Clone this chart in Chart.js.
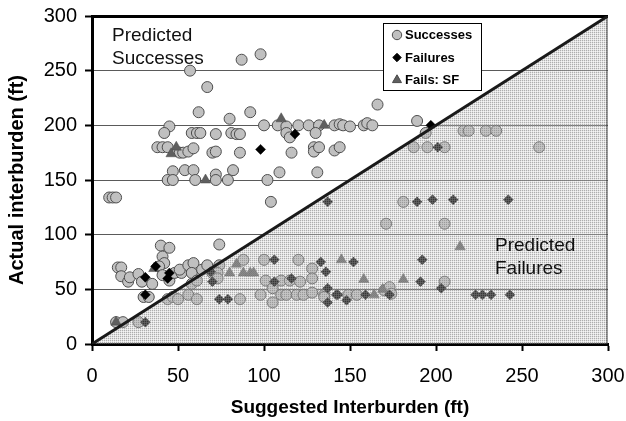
<!DOCTYPE html>
<html>
<head>
<meta charset="utf-8">
<script src="https://cdn.jsdelivr.net/npm/chart.js@4.4.1/dist/chart.umd.min.js"></script>
<style>
  html, body { margin: 0; padding: 0; background: #fff; }
  #wrap { width: 626px; height: 421px; position: relative; }
</style>
</head>
<body>
<div id="wrap"><canvas id="chart"></canvas></div>
<script>
// [suggested, actual] interburden in ft
const successes = [
  [87,260],[98,265],[57,250],[67,235],[62,212],[92,212],[80,206],[166,219],[189,204],
  [45,199],[100,200],[108,200],[113,199],[120,200],[126,200],[132,200],[141,200],[144,201],
  [146,200],[150,199],[158,200],[160,202],[163,200],
  [42,193],[58,193],[61,193],[63,193],[72,192],[81,193],[84,192],[86,192],[113,193],[115,189],
  [130,193],[194,193],[216,195],[219,195],[229,195],[235,195],
  [38,180],[41,180],[44,180],[51,175],[53,175],[56,176],[59,179],[70,175],[72,176],[86,175],
  [116,175],[129,180],[129,176],[132,180],[141,177],[144,180],
  [187,180],[195,180],[205,180],[260,180],
  [47,158],[54,159],[59,159],[72,155],[82,159],[109,157],[131,157],
  [44,150],[47,150],[60,150],[72,150],[79,150],[102,150],
  [10,134],[12,134],[14,134],[104,130],[181,130],[171,110],[205,110],
  [15,70],[17,70],[17,62],[21,57],[22,61],[27,64],[29,57],[35,55],[30,43],[33,43],
  [40,90],[45,88],[41,80],[42,74],[39,71],[41,63],[45,58],[48,65],[52,65],[51,68],
  [56,72],[59,74],[58,65],[64,68],[67,72],[74,91],[74,72],[70,65],[73,65],[73,60],
  [14,20],[18,20],[27,20],
  [44,41],[47,43],[50,41],[56,45],[61,41],[58,55],[61,58],
  [86,41],[88,77],[100,77],[120,77],[128,69],[128,60],[101,58],[110,58],[115,58],[121,57],
  [105,51],[98,45],[105,38],[110,45],[113,45],[119,45],[123,45],[128,47],[135,45],[135,43],
  [149,45],[154,45],[170,49],[173,52],[174,46],[205,57]
];
const failures = [
  [98,178],[118,192],[197,200],[201,180],
  [31,61],[31,45],[37,71],[45,65],[44,60],[31,20],
  [69,66],[70,57],[74,41],[79,41],[106,77],[106,57],[116,60],[133,75],[136,66],[137,51],
  [137,38],[142,45],[143,45],[148,40],[152,75],[159,45],[173,45],[192,77],[191,57],[203,51],
  [223,45],[227,45],[232,45],[243,45],
  [137,130],[189,130],[198,132],[210,132],[242,132]
];
const failsSF = [
  [49,180],[46,174],[66,150],[110,206],[135,200],
  [14,20],[36,69],[84,73],[80,65],[88,65],[92,65],[94,65],
  [145,77],[158,59],[164,45],[169,50],[181,59],[214,89]
];
// 1:1 line between predicted success and failure
const diagonal = [[0,0],[300,300]];
const axisTicks = [0, 50, 100, 150, 200, 250, 300];

const FONT = "'Liberation Sans', Arial, sans-serif";
const toXY = arr => arr.map(p => ({ x: p[0], y: p[1] }));

// light dotted screen used for the "predicted failures" half
function makeScreen() {
  const c = document.createElement('canvas');
  c.width = 2; c.height = 2;
  const g = c.getContext('2d');
  g.fillStyle = 'rgba(140,140,140,0.7)'; g.fillRect(0, 0, 1, 1);
  g.fillStyle = 'rgba(190,190,190,0.45)'; g.fillRect(1, 0, 1, 1); g.fillRect(0, 1, 1, 1);
  g.fillStyle = 'rgba(215,215,215,0.25)'; g.fillRect(1, 1, 1, 1);
  return c;
}

const screenPlugin = {
  id: 'screen',
  beforeDatasetDraw(chart, args) {
    if (args.index !== 0) return;
    const xs = chart.scales.x, ys = chart.scales.y, area = chart.chartArea;
    const ctx = chart.ctx;
    const x0 = xs.getPixelForValue(diagonal[0][0]), y0 = ys.getPixelForValue(diagonal[0][1]);
    const x1 = xs.getPixelForValue(diagonal[1][0]), y1 = ys.getPixelForValue(diagonal[1][1]);
    ctx.save();
    ctx.beginPath();
    ctx.moveTo(x0, y0);
    ctx.lineTo(x1, y1);
    ctx.lineTo(x1, y0);
    ctx.closePath();
    ctx.fillStyle = ctx.createPattern(makeScreen(), 'repeat');
    ctx.fill();
    ctx.strokeStyle = 'rgba(0,0,0,0.35)';
    ctx.lineWidth = 2;
    ctx.beginPath();
    ctx.moveTo(area.right - 1, y1);
    ctx.lineTo(area.right - 1, y0);
    ctx.stroke();
    ctx.restore();
  }
};

const notesPlugin = {
  id: 'notes',
  afterDraw(chart) {
    const ctx = chart.ctx;
    ctx.save();
    ctx.fillStyle = '#111';
    ctx.font = '19px ' + FONT;
    ctx.textBaseline = 'middle';
    ctx.textAlign = 'left';
    ctx.fillText('Predicted', 112, 36);
    ctx.fillText('Successes', 112, 59);
    ctx.fillText('Predicted', 495, 246);
    ctx.fillText('Failures', 495, 269);

    // legend box
    ctx.fillStyle = '#fff';
    ctx.fillRect(383.5, 23.5, 98, 67);
    ctx.strokeStyle = '#000';
    ctx.lineWidth = 1;
    ctx.strokeRect(383.5, 23.5, 98, 67);
    const items = [
      { ds: chart.data.datasets[3], y: 35 },
      { ds: chart.data.datasets[1], y: 57.5 },
      { ds: chart.data.datasets[2], y: 80 }
    ];
    items.forEach(it => {
      ctx.fillStyle = it.ds.backgroundColor;
      ctx.strokeStyle = it.ds.borderColor;
      ctx.lineWidth = 1;
      Chart.helpers.drawPoint(ctx, {
        pointStyle: it.ds.pointStyle,
        radius: it.ds.pointRadius - 0.8,
        rotation: 0,
        borderWidth: 1
      }, 397, it.y);
      ctx.fillStyle = '#000';
      ctx.font = 'bold 13px ' + FONT;
      ctx.fillText(it.ds.label, 405, it.y + 0.5);
    });
    ctx.restore();
  }
};

new Chart(document.getElementById('chart'), {
  type: 'scatter',
  data: {
    datasets: [
      {
        type: 'line',
        label: '1:1',
        data: toXY(diagonal),
        borderColor: '#1a1a1a',
        borderWidth: 3,
        pointRadius: 0,
        order: 0
      },
      {
        label: 'Failures',
        data: toXY(failures),
        pointStyle: 'rectRot',
        pointRadius: 5,
        backgroundColor: '#000',
        borderColor: '#000',
        borderWidth: 0.5,
        order: 1
      },
      {
        label: 'Fails: SF',
        data: toXY(failsSF),
        pointStyle: 'triangle',
        pointRadius: 6,
        backgroundColor: '#5f5f5f',
        borderColor: '#4a4a4a',
        borderWidth: 0.5,
        order: 2
      },
      {
        label: 'Successes',
        data: toXY(successes),
        pointStyle: 'circle',
        pointRadius: 5.5,
        backgroundColor: '#c0c0c0',
        borderColor: '#4d4d4d',
        borderWidth: 1,
        order: 3
      }
    ]
  },
  plugins: [screenPlugin, notesPlugin],
  options: {
    responsive: true,
    maintainAspectRatio: false,
    animation: false,
    layout: { padding: { top: 16, right: 18, bottom: 0, left: 0 } },
    plugins: { legend: { display: false }, tooltip: { enabled: false } },
    scales: {
      x: {
        type: 'linear',
        min: axisTicks[0],
        max: axisTicks[axisTicks.length - 1],
        afterBuildTicks: s => { s.ticks = axisTicks.map(v => ({ value: v })); },
        // fixed axis box so the plot area lands where the original has it
        afterFit: s => { s.height = 77; s.paddingRight = 0; s.paddingLeft = 0; },
        ticks: { color: '#000', font: { family: FONT, size: 20 }, padding: 13, maxRotation: 0 },
        grid: { drawOnChartArea: false, drawTicks: true, tickLength: 7, tickColor: '#000', tickWidth: 2 },
        border: { display: true, color: '#000', width: 3 },
        title: {
          display: true,
          text: 'Suggested Interburden (ft)',
          color: '#000',
          font: { family: FONT, size: 19, weight: 'bold' },
          padding: { top: 0, bottom: 2 }
        }
      },
      y: {
        type: 'linear',
        min: axisTicks[0],
        max: axisTicks[axisTicks.length - 1],
        afterBuildTicks: s => { s.ticks = axisTicks.map(v => ({ value: v })); },
        afterFit: s => { s.width = 92; s.paddingTop = 0; s.paddingBottom = 0; },
        ticks: { color: '#000', font: { family: FONT, size: 20 }, padding: 8 },
        grid: {
          color: c => c.tick.value === 300 ? '#000' : (c.tick.value === 0 ? 'rgba(0,0,0,0)' : '#5a5a5a'),
          lineWidth: c => c.tick.value === 300 ? 3 : 1,
          tickLength: 7,
          tickColor: '#000',
          tickWidth: 2
        },
        border: { display: true, color: '#000', width: 3 },
        title: {
          display: true,
          text: 'Actual interburden (ft)',
          color: '#000',
          font: { family: FONT, size: 20, weight: 'bold' },
          padding: { top: 5, bottom: 0 }
        }
      }
    }
  }
});
</script>
</body>
</html>
